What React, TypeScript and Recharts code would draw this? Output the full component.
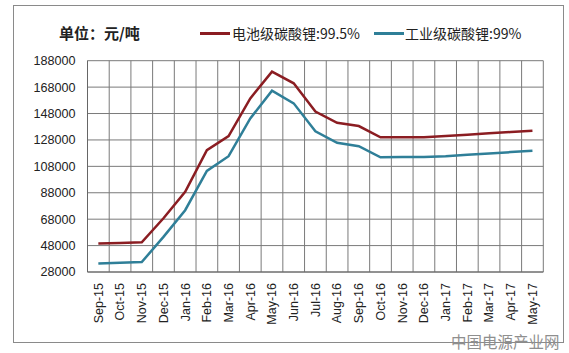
import React from "react";
import { LineChart, Line, XAxis, YAxis, CartesianGrid } from "recharts";

const months = [
  "Sep-15", "Oct-15", "Nov-15", "Dec-15", "Jan-16", "Feb-16", "Mar-16",
  "Apr-16", "May-16", "Jun-16", "Jul-16", "Aug-16", "Sep-16", "Oct-16",
  "Nov-16", "Dec-16", "Jan-17", "Feb-17", "Mar-17", "Apr-17", "May-17",
];
const batteryGrade = [
  49500, 50000, 50500, 68700, 88700, 120300, 130900, 159500, 179700, 170900,
  149500, 141000, 138500, 130000, 130000, 130000, 131000, 132000, 133000, 134000, 135000,
];
const industrialGrade = [
  34400, 35000, 35500, 54600, 74800, 104600, 115700, 144300, 165300, 155700,
  134500, 125800, 123300, 114800, 115000, 115000, 115700, 116800, 117800, 118800, 119800,
];
const yTicks = [28000, 48000, 68000, 88000, 108000, 128000, 148000, 168000, 188000];
const seriesNames = ["电池级碳酸锂:99.5%", "工业级碳酸锂:99%"];
const titleText = "单位：元/吨";
const watermark = "中国电源产业网";

const data = months.map((m, i) => ({
  month: m,
  battery: batteryGrade[i],
  industrial: industrialGrade[i],
}));

const RED = "#8b1d22";
const TEAL = "#2f7f98";
const LATIN = "'Liberation Sans', Arial, sans-serif";
const CJK = "'Noto Sans CJK SC', 'Noto Sans', sans-serif";

const XTick = (props: any) => {
  const { x, y, payload } = props;
  return (
    <text
      x={x}
      y={y}
      transform={`rotate(-90, ${x}, ${y})`}
      textAnchor="end"
      dy="0.35em"
      fill="#222"
      fontSize={12.5}
      fontFamily={LATIN}
    >
      {payload.value}
    </text>
  );
};

export default function App() {
  const n = months.length;
  return (
    <div style={{ position: "absolute", left: 0, top: 0, width: 569, height: 353, background: "#fff", overflow: "hidden" }}>
      <div
        style={{
          position: "absolute",
          left: 13,
          top: 5,
          width: 549,
          height: 336,
          border: "1.5px solid #8a8a8a",
        }}
      />
      <div
        style={{
          position: "absolute",
          left: 59,
          top: 23,
          fontFamily: CJK,
          fontWeight: 700,
          fontSize: 15,
          color: "#222",
          lineHeight: "20px",
          whiteSpace: "nowrap",
        }}
      >
        {titleText}
      </div>
      <div style={{ position: "absolute", left: 200, top: 32, width: 30, height: 2.5, background: RED }} />
      <div
        style={{
          position: "absolute",
          left: 232,
          top: 23,
          fontFamily: CJK,
          fontSize: 14,
          color: "#222",
          lineHeight: "20px",
          whiteSpace: "nowrap",
        }}
      >
        {seriesNames[0]}
      </div>
      <div style={{ position: "absolute", left: 374, top: 32, width: 30, height: 2.5, background: TEAL }} />
      <div
        style={{
          position: "absolute",
          left: 405,
          top: 23,
          fontFamily: CJK,
          fontSize: 14,
          color: "#222",
          lineHeight: "20px",
          whiteSpace: "nowrap",
        }}
      >
        {seriesNames[1]}
      </div>
      <div style={{ position: "absolute", left: 0, top: 0 }}>
        <LineChart
          width={569}
          height={353}
          data={data}
          margin={{ top: 60.7, right: 25.7, bottom: 0, left: 0 }}
        >
          <CartesianGrid
            stroke="#7a7a7a"
            strokeWidth={1}
            verticalCoordinatesGenerator={({ offset }: any) =>
              Array.from({ length: n + 1 }, (_, i) => offset.left + (i * offset.width) / n)
            }
          />
          <XAxis
            dataKey="month"
            scale="band"
            interval={0}
            tickLine={false}
            axisLine={{ stroke: "#666" }}
            height={81}
            tickSize={0}
            tickMargin={11}
            tick={<XTick />}
          />
          <YAxis
            type="number"
            domain={[28000, 188000]}
            ticks={yTicks}
            interval={0}
            width={87.5}
            axisLine={{ stroke: "#666" }}
            tickLine={false}
            tickSize={0}
            tickMargin={12}
            tick={{ fill: "#222", fontSize: 12.6, fontFamily: LATIN }}
          />
          <Line
            type="linear"
            dataKey="battery"
            stroke={RED}
            strokeWidth={2.5}
            dot={false}
            isAnimationActive={false}
          />
          <Line
            type="linear"
            dataKey="industrial"
            stroke={TEAL}
            strokeWidth={2.5}
            dot={false}
            isAnimationActive={false}
          />
        </LineChart>
      </div>
      <div
        style={{
          position: "absolute",
          left: 451,
          top: 333,
          fontFamily: CJK,
          fontSize: 15.5,
          color: "#8f8f8f",
          lineHeight: "17px",
          whiteSpace: "nowrap",
        }}
      >
        {watermark}
      </div>
    </div>
  );
}
